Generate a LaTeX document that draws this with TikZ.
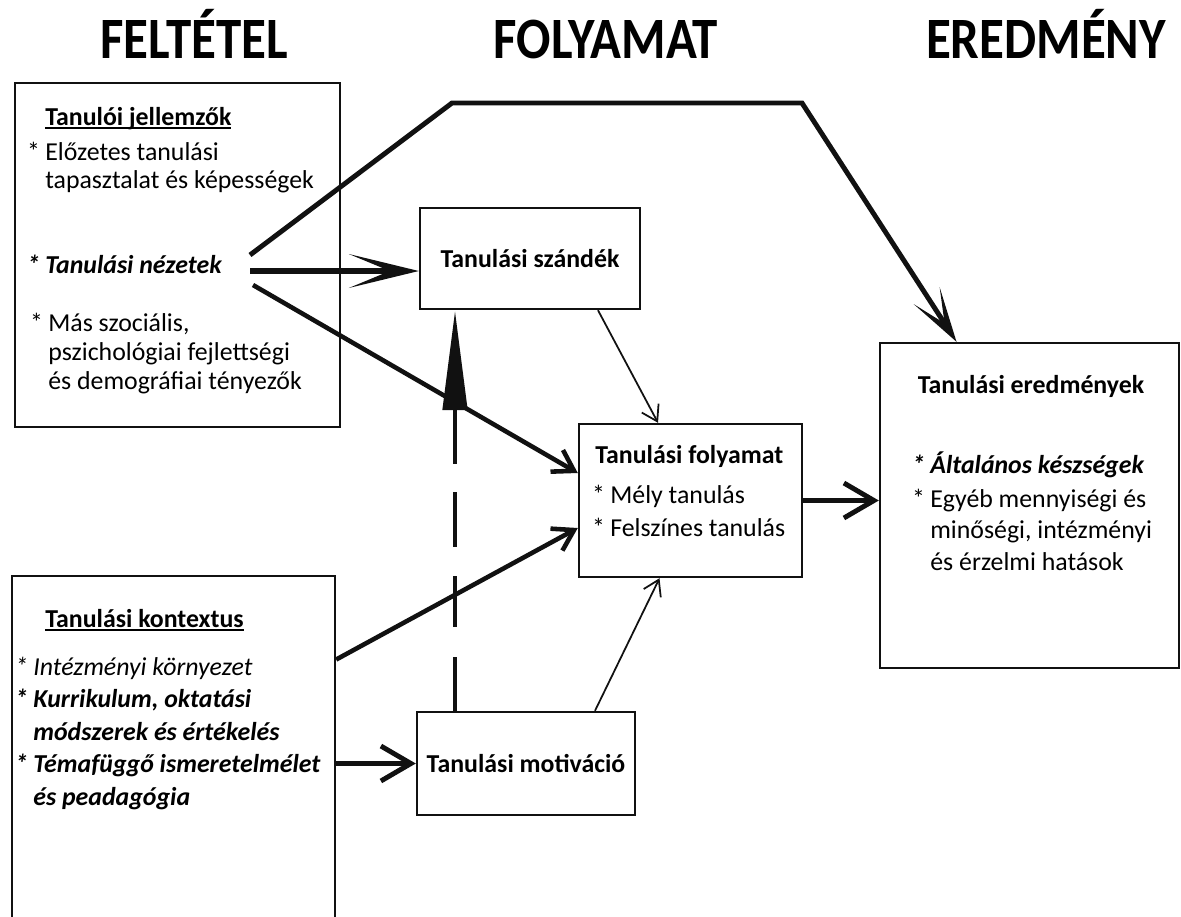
\documentclass[tikz,border=0pt]{standalone}
\usepackage{fontspec}
\setmainfont{Carlito}
\usetikzlibrary{arrows.meta,positioning}
\definecolor{ink}{HTML}{111111}
\newsavebox\ulinbox
\newcommand{\ulin}[1]{\sbox\ulinbox{#1}\rlap{\rule[-2.4pt]{\wd\ulinbox}{1pt}}\usebox\ulinbox}
\newcommand{\bul}{\llap{*\hspace{3pt}}}
\tikzset{
  framebox/.style={
    draw=ink,
    line width=1.4pt,
    inner sep=0pt,
    align=center,
    font=\fontsize{14.7}{17}\selectfont\bfseries
  },
  bodytext/.style={
    inner sep=0pt,
    anchor=base west,
    align=left,
    font=\fontsize{14.7}{17}\selectfont
  },
  boxhead/.style={inner sep=0pt,anchor=base,font=\fontsize{14.7}{17}\selectfont\bfseries},
  coltitle/.style={inner sep=0pt,anchor=base,font=\fontsize{29}{34}\selectfont\bfseries},
  longar/.style={-{Stealth[length=1.4cm,width=0.68cm,inset=0.82cm,line width=0pt]},line width=3.4pt,draw=ink},
  bigbar/.style={-{Straight Barb[length=0.6cm,width=0.7cm]},line width=2.8pt,draw=ink},
  midbar/.style={-{Straight Barb[length=0.4cm,width=0.5cm]},line width=2.6pt,draw=ink},
  thinbar/.style={-{Straight Barb[length=0.3cm,width=0.38cm]},line width=1pt,draw=ink},
  dashar/.style={-{Triangle[length=2cm,width=0.48cm]},line width=2.8pt,draw=ink,
    dash pattern=on 1.08cm off 0.6cm on 1.02cm off 0.58cm on 1.1cm off 0.56cm on 3cm}
}

\begin{document}
\begin{tikzpicture}[x=0.02cm,y=-0.02cm]
  \useasboundingbox (0,0) rectangle (1181,917);

  % column titles
  \node[coltitle] (feltetel) at (194,58)  {\scalebox{1}[1.15]{FELTÉTEL}};
  \node[coltitle] (folyamat) at (606,58)  {\scalebox{1}[1.15]{FOLYAMAT}};
  \node[coltitle] (eredmeny) at (1046,58) {\scalebox{1}[1.15]{EREDMÉNY}};

  % boxes
  \node[framebox, minimum width=6.5cm,  minimum height=6.88cm] (jell)  at (177.5,255)  {};
  \node[framebox, minimum width=6.46cm, minimum height=6.98cm] (kont)  at (173.5,750.5) {};
  \node[framebox, minimum width=4.4cm,  minimum height=2.02cm] (szand) at (530,258.5)  {Tanulási szándék};
  \node[framebox, minimum width=4.46cm, minimum height=3.06cm] (foly)  at (690.5,500.5) {};
  \node[framebox, minimum width=4.36cm, minimum height=2.06cm] (mot)   at (526,763.5)  {Tanulási motiváció};
  \node[framebox, minimum width=5.98cm, minimum height=6.5cm]  (ered)  at (1029.5,505.5) {};

  % texts in the boxes (base = last line)
  \node[bodytext, font=\fontsize{14.7}{17}\selectfont\bfseries] (jellhead) at (45,125) {\ulin{Tanulói jellemzők}};
  \node[bodytext, font=\fontsize{14.7}{15.9}\selectfont] (jellprior) at (45,188) {\bul Előzetes tanulási\\tapasztalat és képességek};
  \node[bodytext, font=\fontsize{14.7}{17}\selectfont\bfseries\itshape] (jellview) at (45,273) {\bul Tanulási nézetek};
  \node[bodytext, font=\fontsize{14.7}{16.4}\selectfont] (jellother) at (48,389) {\bul Más szociális,\\pszichológiai fejlettségi\\és demográfiai tényezők};

  \node[bodytext, font=\fontsize{14.7}{17}\selectfont\bfseries] (konthead) at (45,627) {\ulin{Tanulási kontextus}};
  \node[bodytext, font=\fontsize{14.7}{17}\selectfont\itshape] (kontinst) at (33,675) {\bul Intézményi környezet};
  \node[bodytext, font=\fontsize{14.7}{18.7}\selectfont\bfseries\itshape] (kontcurr) at (33,740) {\bul Kurrikulum, oktatási\\módszerek és értékelés};
  \node[bodytext, font=\fontsize{14.7}{18.7}\selectfont\bfseries\itshape] (konttopic) at (33,805) {\bul Témafüggő ismeretelmélet\\és peadagógia};

  \node[bodytext, font=\fontsize{14.7}{17}\selectfont\bfseries] (folyhead) at (595,463) {Tanulási folyamat};
  \node[bodytext, font=\fontsize{14.7}{18.7}\selectfont] (folyitems) at (610,536) {\bul Mély tanulás\\\bul Felszínes tanulás};

  \node[boxhead] (eredhead) at (1031,393) {Tanulási eredmények};
  \node[bodytext, font=\fontsize{14.7}{17}\selectfont\bfseries\itshape] (eredgen) at (930,473) {\bul Általános készségek};
  \node[bodytext, font=\fontsize{14.7}{17.9}\selectfont] (eredother) at (930,570) {\bul Egyéb mennyiségi és\\minőségi, intézményi\\és érzelmi hatások};

  % connector ends
  \coordinate (nzup)  at (250,255);
  \coordinate (nzmid) at (250,271);
  \coordinate (nzlow) at (253,285);
  \coordinate (topl)  at (452,103);
  \coordinate (topr)  at (802,103);
  \coordinate (dashfoot) at ([xshift=-1.42cm]mot.north);

  % connectors
  \draw[longar, line width=2.8pt, -{Stealth[length=1.1cm,width=0.62cm,inset=0.66cm,line width=0pt]}]
    (nzup) -- (topl) -- (topr) -- ([xshift=-1.46cm]ered.north);
  \draw[longar] (nzmid) -- (nzmid -| szand.west);
  \draw[midbar] (nzlow) -- ([yshift=0.55cm]foly.west);
  \draw[midbar] ([yshift=1.82cm]kont.east) -- ([yshift=-0.55cm]foly.west);
  \draw[bigbar] (mot.west -| kont.east) -- (mot.west);
  \draw[bigbar] (foly.east) -- (foly.east -| ered.west);
  \draw[dashar] (dashfoot) -- (dashfoot |- szand.south);
  \draw[thinbar] ([xshift=1.36cm]szand.south) -- ([xshift=-0.65cm]foly.north);
  \draw[thinbar] ([xshift=1.38cm]mot.north) -- ([xshift=-0.62cm]foly.south);
\end{tikzpicture}
\end{document}
